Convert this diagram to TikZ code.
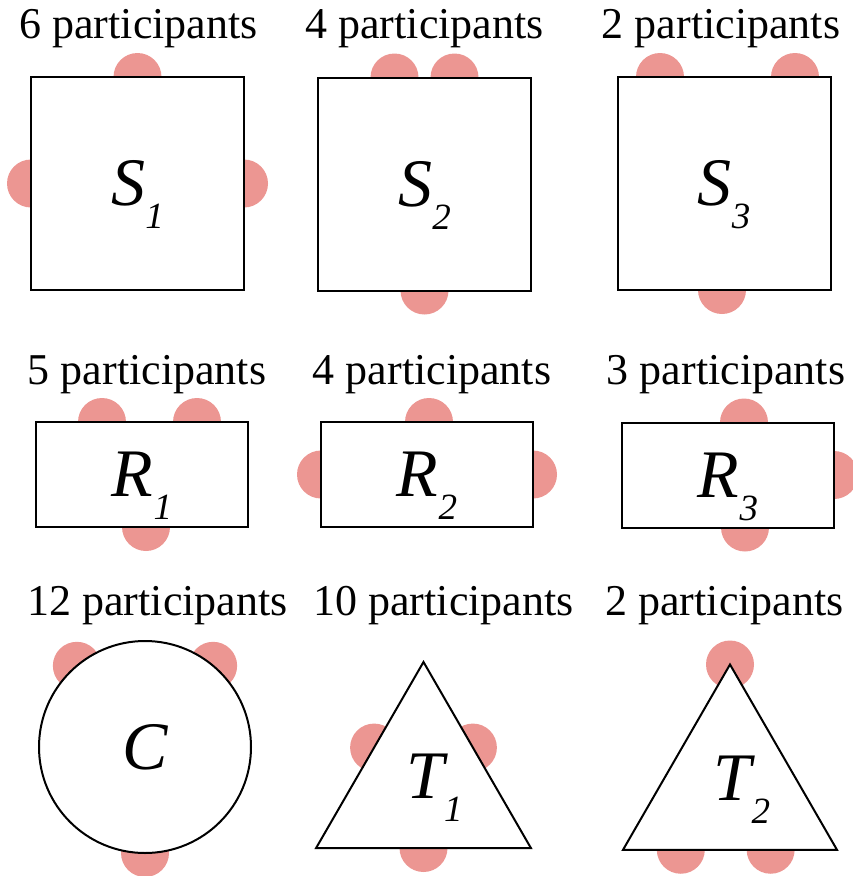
\documentclass[tikz,border=0pt]{standalone}
\usepackage{fontspec}
\setmainfont{Liberation Serif}
\usetikzlibrary{shapes.geometric, positioning, calc, backgrounds}
\definecolor{seatpink}{RGB}{236,150,146}

% italic table name with a large lowered index
\newcommand{\tabletag}[2]{\fontsize{68}{68}\selectfont\itshape #1\raisebox{-23pt}[0pt][0pt]{\fontsize{37}{37}\selectfont #2}}

\begin{document}
\begin{tikzpicture}[x=1pt, y=-1pt,
    desk/.style={draw, line width=2pt, fill=white, inner sep=0pt, outer sep=0pt},
    seat/.style={fill=seatpink},
    count/.style={anchor=base, inner sep=0pt, font=\fontsize{44}{48}\selectfont}]
    \useasboundingbox (0,0) rectangle (853,876);

    % Square tables
    \node[desk, minimum width=213pt, minimum height=213pt] (S1) at (137.5,183.5) {\tabletag{S}{1}};
    \node[desk, minimum width=213pt, minimum height=213pt] (S2) at (424.5,184) {\tabletag{S}{2}};
    \node[desk, minimum width=213pt, minimum height=213pt] (S3) at (724,183.5) {\tabletag{S}{3}};

    % Rectangular tables
    \node[desk, minimum width=212pt, minimum height=105pt] (R1) at (142,474.5) {\tabletag{R}{1}};
    \node[desk, minimum width=212pt, minimum height=105pt] (R2) at (427,474.5) {\tabletag{R}{2}};
    \node[desk, minimum width=212pt, minimum height=105pt] (R3) at (728,475) {\tabletag{R}{3}};

    % Round and triangular tables
    \node[desk, circle, minimum size=212pt] (C) at (145,747) {\tabletag{C}{}};
    \node[desk, regular polygon, regular polygon sides=3, minimum size=248pt] (T1) at (423.5,786) {};
    \node[desk, regular polygon, regular polygon sides=3, minimum size=247pt] (T2) at (730,788) {};
    \node[inner sep=0pt] (T1tag) at ($(T1.center)+(11,-10)$) {\tabletag{T}{1}};
    \node[inner sep=0pt] (T2tag) at ($(T2.center)+(12,-10)$) {\tabletag{T}{2}};

    % Seats behind the tables
    \begin{scope}[on background layer]
        \foreach \t/\a/\dx in {S1/north/0, S1/west/0, S1/east/0,
                S2/north/-30, S2/north/30, S2/south/0,
                S3/north/-64, S3/north/71, S3/south/-2,
                R1/north/-40, R1/north/55, R1/south/4,
                R2/north/2, R2/west/0, R2/east/0,
                R3/north/16, R3/east/0, R3/south/17,
                C/130/0, C/50/0, C/south/0,
                T1/side 2/0, T2/corner 1/0}
            \fill[seat] ($(\t.\a)+(\dx,0)$) circle (24pt);
        % seats along the triangle sides
        \foreach \t/\u/\v/\f in {T1/corner 1/corner 2/0.46, T1/corner 1/corner 3/0.46,
                T2/corner 2/corner 3/0.27, T2/corner 2/corner 3/0.69}
            \fill[seat] ($(\t.\u)!\f!(\t.\v)$) circle (24pt);
    \end{scope}

    % Participant counts
    \foreach \t/\x/\y/\n in {S1/138.5/38/6, S2/424.5/38/4, S3/721/38/2,
            R1/147/384/5, R2/432/384/4, R3/726/384/3,
            C/157.5/615/12, T1/443.5/615/10, T2/724.5/615/2}
        \node[count] (lab\t) at (\x,\y) {\n\ participants};
\end{tikzpicture}
\end{document}
